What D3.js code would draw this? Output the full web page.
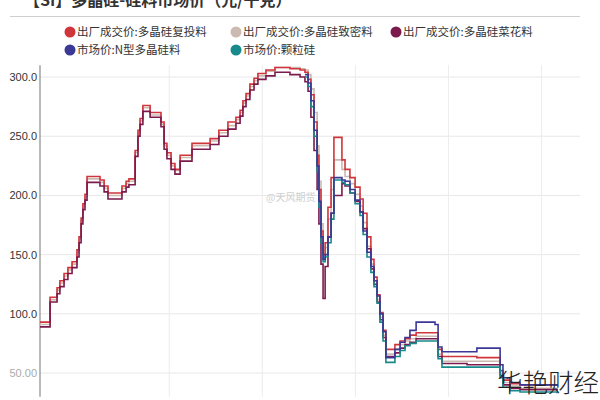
<!DOCTYPE html>
<html>
<head>
<meta charset="utf-8">
<script src="https://cdn.jsdelivr.net/npm/d3@7"></script>
<style>
  html, body { margin: 0; padding: 0; background: #fff; }
  svg { display: block; }
</style>
</head>
<body>
<svg id="chart" width="600" height="400"></svg>
<script>
// ---- data ----
const titleText = "【SI】多晶硅-硅料市场价（元/千克）";
const seriesNames = [
  "出厂成交价:多晶硅复投料",
  "出厂成交价:多晶硅致密料",
  "出厂成交价:多晶硅菜花料",
  "市场价:N型多晶硅料",
  "市场价:颗粒硅"
];
const seriesColors = ["#d0353b", "#cbbab2", "#7b1a4c", "#3c3896", "#178a8c"];

// time axis, in weeks from the first observation
const weeks = [0,3.9,6.6,7.7,9.3,10.8,12.4,14.3,15.1,15.9,
  16.6,17.4,18.2,23.2,24.8,26.3,31.7,33.3,34.4,36.8,
  37.9,38.7,39.8,42.6,46.8,48.0,49.1,50.7,52.2,54.2,
  58.8,65.8,69.2,72.7,75.8,77.4,78.5,79.7,81.2,82.8,
  84.3,87.4,90.9,96.7,100.6,102.5,103.7,104.8,106.0,107.2,
  107.9,108.7,109.5,110.3,111.4,112.6,113.7,116.8,118.0,119.9,
  121.9,123.8,125.0,126.5,128.0,129.2,130.4,131.5,132.7,133.8,
  137.3,139.3,141.2,143.1,145.5,152.8,154.0,155.5,165.2,169.0,
  176.8,178.0,179.1,181.8,185.7,200];

const fuTouLiao = [93,114,122,128,134,139,144,154,165,181,
  193,201,216,213,208,202,208,212,214,238,
  255,265,276,270,262,244,236,227,222,234,
  244,248,255,262,266,272,280,286,294,299,
  303,306,308,307,306,304,298,285,262,234,
  205,170,150,160,190,215,249,230,222,215,
  207,197,185,165,146,131,116,101,86,70,
  74,77,79,82,84,84,70,64,64,63,
  63,52,44,41,40,39];

const zhiMiLiao = [91,112,120,126,132,137,142,152,163,179,
  191,199,214,211,206,200,206,210,212,236,
  253,263,274,268,260,242,234,225,221,232,
  242,246,253,259,264,270,278,284,292,297,
  301,305,308,308,307,306,302,290,270,242,
  212,176,150,156,180,205,230,222,216,210,
  201,191,177,157,142,128,112,97,82,66,
  70,74,77,79,81,81,66,60,60,60,
  60,50,42,39,37,36];

const caiHuaLiao = [89,110,117,123,129,134,139,148,160,176,
  188,196,211,208,203,197,203,207,209,233,
  250,260,271,266,258,239,231,222,218,229,
  239,243,250,256,261,267,275,281,289,294,
  298,301,304,302,300,296,288,266,238,205,
  176,142,113,140,165,185,200,210,208,202,
  195,186,172,155,138,125,110,95,80,64,
  67,71,74,76,79,79,64,58,57,57,
  57,48,40,37,36,35];

const nXing = [...Array(45).fill(null),
  302,295,280,255,225,
  195,165,146,150,165,185,215,213,212,205,
  196,186,170,152,140,128,115,100,85,63,
  70,76,80,86,93,91,72,68,68,71,
  71,57,46,42,40,39];

const keLiGui = [...Array(45).fill(null),
  300,292,275,250,220,
  190,160,144,148,160,180,213,211,209,202,
  193,183,167,148,135,123,109,93,77,59,
  64,69,73,75,77,77,62,55,55,55,
  55,46,38,35,34,33];

const yTicks = [50, 100, 150, 200, 250, 300];
const xGridWeeks = [50, 86, 122, 158, 194];

// ---- drawing ----
const svg = d3.select("#chart");
const cjk = "'Noto Sans CJK SC', 'Noto Sans', sans-serif";
const latin = "'Liberation Sans', Arial, sans-serif";

const x = d3.scaleLinear().domain([0, 200]).range([40, 557]);
const y = d3.scaleLinear().domain([30, 310]).range([396.7, 65.2]);

// title (partially cut at top)
svg.append("text")
  .attr("x", 24).attr("y", 6)
  .attr("font-family", cjk).attr("font-size", 16).attr("font-weight", "bold")
  .attr("fill", "#333").text(titleText);
svg.append("line")
  .attr("x1", 10).attr("x2", 580).attr("y1", 16.5).attr("y2", 16.5)
  .attr("stroke", "#cfcfcf").attr("stroke-width", 1);

// legend
const legendPos = [[70, 32], [236, 32], [396, 32], [70, 50], [236, 50]];
seriesNames.forEach((name, i) => {
  const g = svg.append("g").attr("transform", `translate(${legendPos[i][0]},${legendPos[i][1]})`);
  g.append("circle").attr("r", 5.5).attr("fill", seriesColors[i]);
  g.append("text").attr("x", 7).attr("y", 4)
    .attr("font-family", cjk).attr("font-size", 11.5).attr("fill", "#333").text(name);
});

// grid
const grid = svg.append("g");
grid.selectAll("line.h").data(yTicks).join("line")
  .attr("x1", 40).attr("x2", 580)
  .attr("y1", d => y(d)).attr("y2", d => y(d))
  .attr("stroke", "#e8e8e8").attr("stroke-width", 1);
grid.selectAll("line.v").data(xGridWeeks).join("line")
  .attr("x1", d => x(d)).attr("x2", d => x(d))
  .attr("y1", y(310)).attr("y2", y(30))
  .attr("stroke", "#ececec").attr("stroke-width", 1);

// y axis
const yAxis = d3.axisLeft(y).tickValues(yTicks).tickSize(0)
  .tickFormat(d => d === 50 ? "50.00" : d3.format(".1f")(d));
const ag = svg.append("g").attr("transform", "translate(40,0)").call(yAxis);
ag.select(".domain").remove();
ag.selectAll("text")
  .attr("x", -3)
  .attr("font-family", latin).attr("font-size", 11)
  .attr("fill", d => d === 50 ? "#aaa" : "#333");
svg.append("line")
  .attr("x1", 40).attr("x2", 40).attr("y1", y(310)).attr("y2", y(30))
  .attr("stroke", "#8a8a8a").attr("stroke-width", 1.2);

// watermark (faint)
svg.append("text").attr("x", 266).attr("y", 201)
  .attr("font-family", cjk).attr("font-size", 10).attr("fill", "#cfcfcf")
  .text("@天风期货");

// lines
const seriesData = [zhiMiLiao, fuTouLiao, caiHuaLiao, keLiGui, nXing];
const colorOrder = [1, 0, 2, 4, 3];
const line = d3.line()
  .defined(d => d[1] != null)
  .x(d => x(d[0])).y(d => y(d[1]))
  .curve(d3.curveStepAfter);
seriesData.forEach((vals, k) => {
  const pts = weeks.map((w, i) => [w, vals[i]]);
  svg.append("path").datum(pts)
    .attr("d", line)
    .attr("fill", "none")
    .attr("stroke", seriesColors[colorOrder[k]])
    .attr("stroke-width", 1.6)
    .attr("stroke-linejoin", "miter");
});

// corner watermark
svg.append("text").attr("x", 497).attr("y", 392)
  .attr("font-family", cjk).attr("font-size", 25.5).attr("font-weight", 300)
  .attr("fill", "#222").text("华艳财经");
</script>
</body>
</html>
